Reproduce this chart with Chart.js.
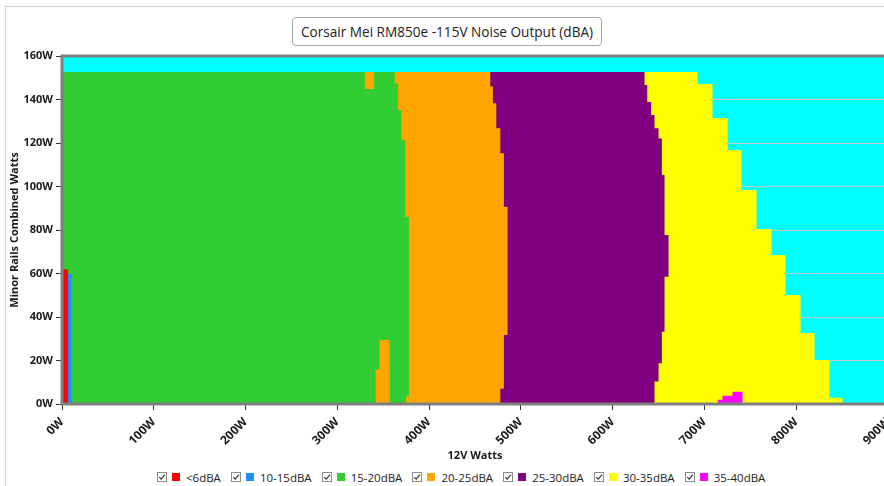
<!DOCTYPE html>
<html>
<head>
<meta charset="utf-8">
<title>Corsair Mei RM850e -115V Noise Output (dBA)</title>
<script src="https://cdn.jsdelivr.net/npm/chart.js@4.4.1/dist/chart.umd.min.js"></script>
<style>
  html, body { margin: 0; padding: 0; background: #fff; overflow: hidden; }
  body { width: 884px; height: 486px; position: relative; font-family: "Open Sans", sans-serif; }
  #frame { position: absolute; left: 5px; top: 6px; width: 920px; height: 520px; border: 1px solid #d4d4d4; }
  #chart { position: absolute; left: 0; top: 0; }
  #title {
    position: absolute; left: 292px; top: 17px; width: 308px; height: 27px;
    border: 1px solid #a6a6a6; border-radius: 4px; background: #fff;
    font-size: 13.6px; line-height: 27px; text-align: center; color: #222;
  }
  #legend { position: absolute; left: 157px; top: 469px; display: flex; font-size: 11.5px; color: #222; }
  .item { display: flex; align-items: center; margin-right: 10px; height: 16px; }
  .check { width: 8px; height: 8px; border: 1px solid #8c8c8c; margin-right: 5px; position: relative; }
  .check svg { position: absolute; left: 0; top: 0; }
  .swatch { width: 8px; height: 8px; margin-right: 6px; }
</style>
</head>
<body>
<div id="frame"></div>
<canvas id="chart" width="892" height="466"></canvas>
<div id="title"></div>
<div id="legend"></div>
<script>
// Titre et légende
const chartTitle = "Corsair Mei RM850e -115V Noise Output (dBA)";
const seriesNames = ["<6dBA", "10-15dBA", "15-20dBA", "20-25dBA", "25-30dBA", "30-35dBA", "35-40dBA"];
const seriesColors = ["#ff0000", "#1e90ff", "#32cd32", "#ffa500", "#800080", "#ffff00", "#ff00ff"];

// Bord droit de chaque zone : à partir de minorY[i] (W) le bord est à twelveX[i] (W)
const redY = [0, 62];
const redX = [6.5, 6.5];
const blueY = [0, 60];
const blueX = [10.2, 10.2];
const greenY = [0, 3.4, 86.1, 121.4, 135.2, 147.5, 152.7];
const greenX = [375, 378, 374, 369.7, 366, 362.5, 362.5];
const orangeY = [0, 7.0, 31.7, 90.7, 115.3, 126.8, 138.3, 146.0, 152.7];
const orangeX = [477.6, 481.5, 485.5, 481.5, 477.6, 473.2, 469.5, 466.7, 466.7];
const purpleY = [0, 10.3, 18.7, 33.2, 58.5, 77.7, 105.3, 122.1, 126.8, 132.9, 138.9, 146.7, 152.7];
const purpleX = [645.6, 650, 653.6, 656.5, 660.9, 656.5, 653.6, 650, 645.6, 642, 637.7, 634.7, 634.7];
const yellowY = [0, 2.9, 20.2, 32.6, 50.1, 68.5, 80.5, 98.4, 116.8, 131.5, 147.1, 152.7];
const yellowX = [850.5, 836.3, 820, 804.7, 788.4, 773.1, 756.8, 740.4, 725.2, 708.8, 692.5, 692.5];

// Petites zones isolées (bord gauche / bord droit)
const orangeTopY = [144.7, 152.7];
const orangeTopLeft = [330, 330];
const orangeTopRight = [340, 340];
const orangeLowY = [0, 15.7, 29.5];
const orangeLowLeft = [341.7, 346, 346];
const orangeLowRight = [357, 357, 357];
const magentaY = [0, 2, 3.8, 5.7];
const magentaLeft = [714.6, 719.7, 730.6, 730.6];
const magentaRight = [741.5, 741.5, 741.5, 741.5];

const xTicksMax = 900;
const yTicksMax = 160;

function edge(ys, xs) {
  return ys.map((y, i) => ({ x: xs[i], y: y }));
}

function band(label, ys, xs, color, fill, order) {
  return {
    label: label,
    data: edge(ys, xs),
    backgroundColor: color,
    borderColor: "rgba(0,0,0,0)",
    borderWidth: 0,
    pointRadius: 0,
    stepped: "after",
    fill: fill,
    order: order,
  };
}

const datasets = [
  band(seriesNames[0], redY, redX, seriesColors[0], "origin", 0),
  band(seriesNames[1], blueY, blueX, seriesColors[1], "origin", 1),
  band(seriesNames[3], orangeTopY, orangeTopRight, seriesColors[3], 3, 2),
  band("", orangeTopY, orangeTopLeft, "rgba(0,0,0,0)", false, 2),
  band(seriesNames[3], orangeLowY, orangeLowRight, seriesColors[3], 5, 2),
  band("", orangeLowY, orangeLowLeft, "rgba(0,0,0,0)", false, 2),
  band(seriesNames[6], magentaY, magentaRight, seriesColors[6], 7, 2),
  band("", magentaY, magentaLeft, "rgba(0,0,0,0)", false, 2),
  band(seriesNames[2], greenY, greenX, seriesColors[2], "origin", 3),
  band(seriesNames[3], orangeY, orangeX, seriesColors[3], "origin", 4),
  band(seriesNames[4], purpleY, purpleX, seriesColors[4], "origin", 5),
  band(seriesNames[5], yellowY, yellowX, seriesColors[5], "origin", 6),
];

// Fond cyan de la zone de tracé
const plotBackground = {
  id: "plotBackground",
  beforeDraw(chart) {
    const { ctx, chartArea: a } = chart;
    ctx.save();
    ctx.fillStyle = "#00ffff";
    ctx.fillRect(a.left, a.top, a.right - a.left, a.bottom - a.top);
    ctx.restore();
  },
};

// Cadre gris autour du tracé
const plotFrame = {
  id: "plotFrame",
  afterDatasetsDraw(chart) {
    const { ctx, chartArea: a } = chart;
    ctx.save();
    ctx.strokeStyle = "#808080";
    ctx.lineWidth = 3;
    ctx.strokeRect(a.left, a.top, a.right - a.left, a.bottom - a.top);
    ctx.restore();
  },
};

Chart.defaults.font.family = "'Open Sans', sans-serif";

new Chart(document.getElementById("chart"), {
  type: "line",
  data: { datasets: datasets },
  plugins: [plotBackground, plotFrame],
  options: {
    indexAxis: "y",
    responsive: false,
    animation: false,
    events: [],
    layout: { padding: { top: 56, right: 4, left: 0, bottom: 0 } },
    plugins: {
      legend: { display: false },
      tooltip: { enabled: false },
      filler: { propagate: false },
    },
    scales: {
      x: {
        type: "linear",
        min: 0,
        max: xTicksMax,
        border: { display: false },
        grid: { drawOnChartArea: false, color: "#333", tickLength: 6 },
        ticks: {
          stepSize: 100,
          autoSkip: false,
          maxRotation: 45,
          minRotation: 45,
          padding: 5,
          color: "#1a1a1a",
          font: { size: 12, weight: "bold" },
          callback: (v) => v + "W",
        },
        title: {
          display: true,
          text: "12V Watts",
          color: "#1a1a1a",
          font: { size: 11, weight: "bold" },
          padding: { top: 0, bottom: 4 },
        },
        afterFit(scale) {
          scale.height = 62;
          scale.paddingLeft = 0;
          scale.paddingRight = 0;
        },
      },
      y: {
        type: "linear",
        min: 0,
        max: yTicksMax,
        border: { display: false },
        grid: { color: "#c8c8c8", tickColor: "#333", tickLength: 6 },
        ticks: {
          stepSize: 20,
          padding: 3,
          color: "#1a1a1a",
          font: { size: 11, weight: "bold" },
          callback: (v) => v + "W",
        },
        title: {
          display: true,
          text: "Minor Rails Combined Watts",
          color: "#1a1a1a",
          font: { size: 11, weight: "bold" },
          padding: { top: 8, bottom: 0 },
        },
        afterFit(scale) {
          scale.width = 62;
        },
      },
    },
  },
});

// Titre et légende en HTML
document.getElementById("title").textContent = chartTitle;
const legend = document.getElementById("legend");
seriesNames.forEach((name, i) => {
  const item = document.createElement("div");
  item.className = "item";
  item.innerHTML =
    '<span class="check"><svg width="8" height="8" viewBox="0 0 8 8"><polyline points="1.2,4.2 3.2,6.2 7,1.6" fill="none" stroke="#333" stroke-width="1.1"/></svg></span>' +
    '<span class="swatch" style="background:' + seriesColors[i] + '"></span>';
  const text = document.createElement("span");
  text.textContent = name;
  item.appendChild(text);
  legend.appendChild(item);
});
</script>
</body>
</html>
